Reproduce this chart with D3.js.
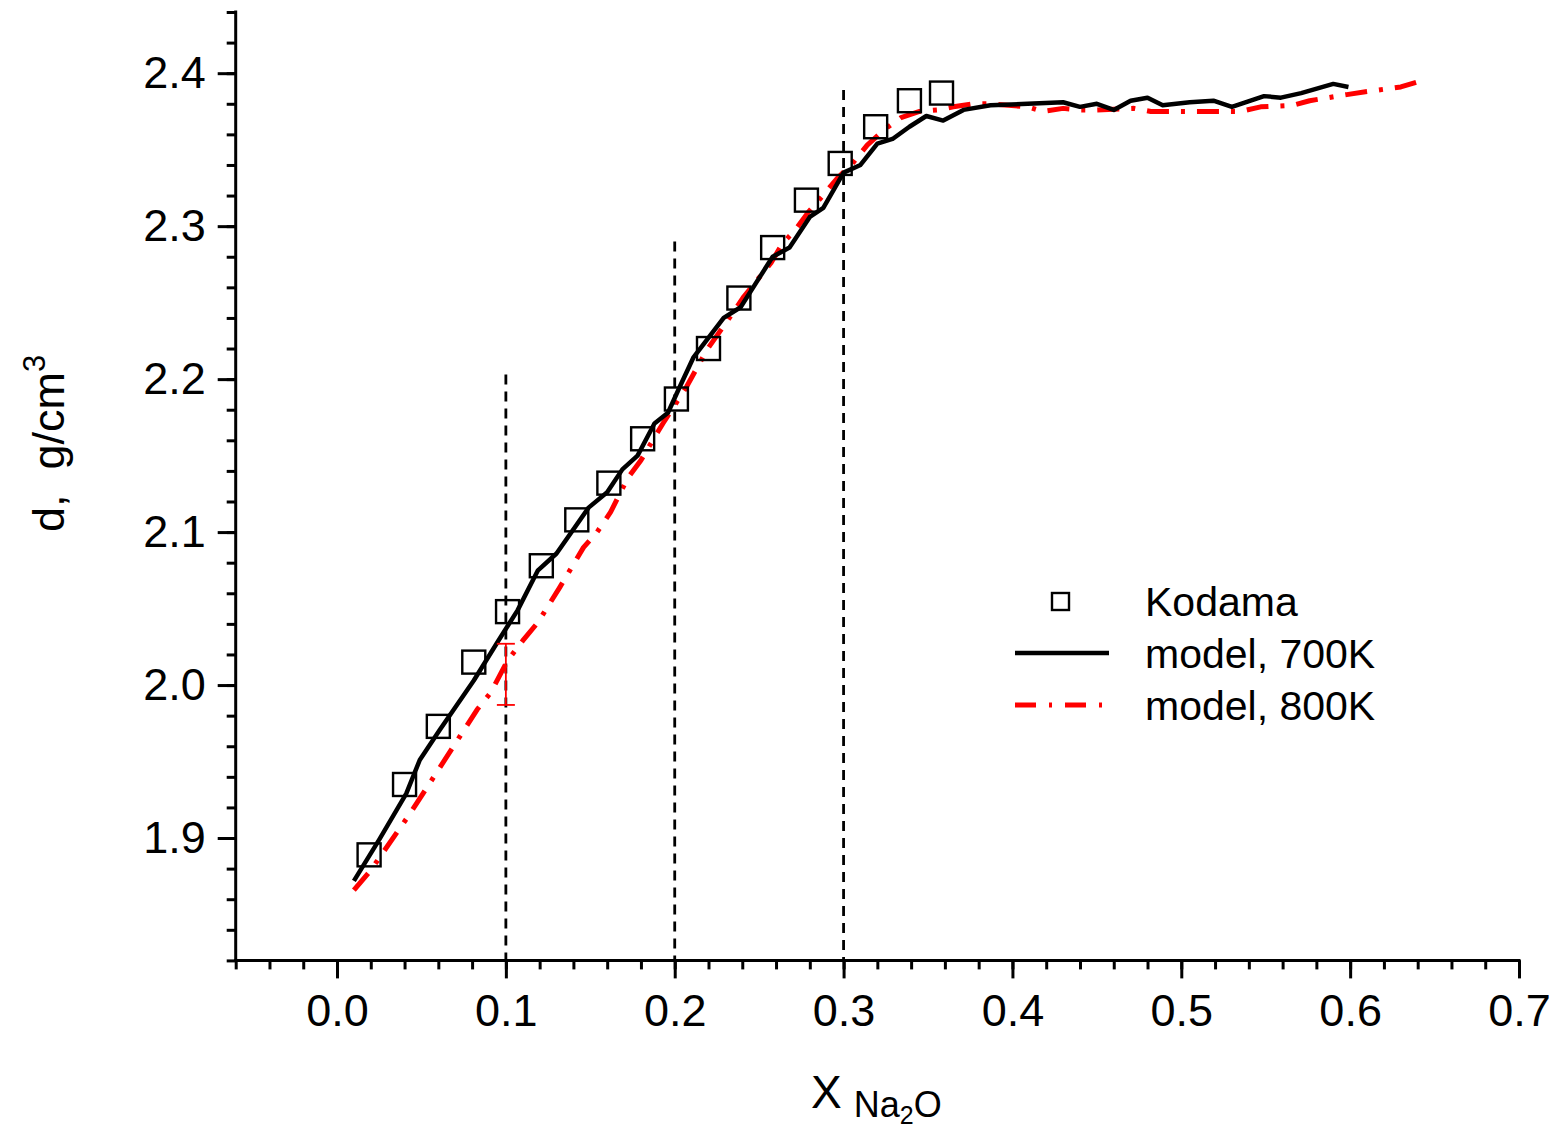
<!DOCTYPE html>
<html>
<head>
<meta charset="utf-8">
<script src="https://cdn.jsdelivr.net/npm/d3@7"></script>
<style>
  html, body { margin: 0; padding: 0; background: #fff; }
  text { font-family: "Liberation Sans", Arial, sans-serif; fill: #000; }
</style>
</head>
<body>
<svg id="chart" width="1559" height="1130"></svg>
<script>
// ---------------- data ----------------
const kodamaX = [0.019, 0.040, 0.060, 0.081, 0.101, 0.121, 0.142, 0.161, 0.181, 0.201,
                 0.220, 0.238, 0.258, 0.278, 0.298, 0.319, 0.339, 0.358];
const kodamaY = [1.889, 1.935, 1.973, 2.015, 2.048, 2.078, 2.108, 2.132, 2.161, 2.187,
                 2.220, 2.253, 2.286, 2.317, 2.341, 2.365, 2.382, 2.387];

const model700X = [0.010, 0.025, 0.041, 0.049, 0.061, 0.081, 0.095, 0.107, 0.119, 0.130,
                   0.149, 0.160, 0.169, 0.178, 0.188, 0.196, 0.203, 0.211, 0.229, 0.239,
                   0.258, 0.268, 0.280, 0.288, 0.300, 0.310, 0.320, 0.329, 0.339, 0.349,
                   0.359, 0.371, 0.387, 0.409, 0.430, 0.440, 0.450, 0.460, 0.470, 0.480,
                   0.489, 0.505, 0.519, 0.530, 0.549, 0.559, 0.571, 0.590, 0.599];
const model700Y = [1.872, 1.899, 1.929, 1.951, 1.971, 2.003, 2.028, 2.049, 2.075, 2.086,
                   2.116, 2.126, 2.141, 2.150, 2.171, 2.178, 2.195, 2.214, 2.240, 2.247,
                   2.280, 2.286, 2.306, 2.312, 2.335, 2.340, 2.354, 2.357, 2.365, 2.372,
                   2.369, 2.376, 2.379, 2.380, 2.381, 2.378, 2.380, 2.376, 2.382, 2.384,
                   2.379, 2.381, 2.382, 2.378, 2.385, 2.384, 2.387, 2.393, 2.391];

const model800X = [0.010, 0.020, 0.042, 0.055, 0.083, 0.091, 0.101, 0.110, 0.119, 0.132,
                   0.146, 0.154, 0.162, 0.172, 0.180, 0.187, 0.193, 0.207, 0.219, 0.233,
                   0.241, 0.249, 0.257, 0.264, 0.271, 0.279, 0.287, 0.296, 0.306, 0.314,
                   0.324, 0.334, 0.345, 0.356, 0.365, 0.377, 0.387, 0.409, 0.418, 0.430,
                   0.440, 0.450, 0.472, 0.482, 0.494, 0.505, 0.511, 0.535, 0.547, 0.566,
                   0.576, 0.598, 0.610, 0.630, 0.642];
const model800Y = [1.866, 1.879, 1.914, 1.936, 1.984, 1.995, 2.016, 2.029, 2.041, 2.064,
                   2.090, 2.100, 2.113, 2.135, 2.147, 2.160, 2.171, 2.195, 2.219, 2.241,
                   2.254, 2.265, 2.276, 2.289, 2.297, 2.309, 2.319, 2.331, 2.342, 2.353,
                   2.363, 2.371, 2.375, 2.376, 2.378, 2.380, 2.380, 2.378, 2.375, 2.377,
                   2.376, 2.376, 2.377, 2.375, 2.375, 2.375, 2.375, 2.375, 2.378, 2.379,
                   2.382, 2.386, 2.388, 2.391, 2.395];

const xTicks = [0.0, 0.1, 0.2, 0.3, 0.4, 0.5, 0.6, 0.7];
const xTickLabels = ["0.0", "0.1", "0.2", "0.3", "0.4", "0.5", "0.6", "0.7"];
const yTicks = [1.9, 2.0, 2.1, 2.2, 2.3, 2.4];
const yTickLabels = ["1.9", "2.0", "2.1", "2.2", "2.3", "2.4"];

const refLineX = [0.1, 0.2, 0.3];
const refLineTop = [2.203, 2.290, 2.389];

const errBarX = [0.1];
const errBarLow = [1.987];
const errBarHigh = [2.027];

const legendLabels = ["Kodama", "model, 700K", "model, 800K"];

// ---------------- layout ----------------
const svg = d3.select("#chart");
const x = d3.scaleLinear().domain([-0.06, 0.7]).range([235.7, 1519]);
const y = d3.scaleLinear().domain([1.82, 2.44]).range([960.4, 12]);
const y0 = y(1.82);

// reference dashed lines
svg.append("g").selectAll("line").data(refLineX).join("line")
  .attr("x1", d => x(d)).attr("x2", d => x(d))
  .attr("y1", (d, i) => y(refLineTop[i])).attr("y2", y0)
  .attr("stroke", "#000").attr("stroke-width", 2.8)
  .attr("stroke-dasharray", "10,7");

// axes
const xMinor = d3.range(-0.06, 0.7001, 0.02).map(v => +v.toFixed(2));
const yMinor = d3.range(1.82, 2.4401, 0.02).map(v => +v.toFixed(2));

const xAxisMinor = d3.axisBottom(x).tickValues(xMinor).tickSize(9).tickFormat("");
const xAxisMajor = d3.axisBottom(x).tickValues(xTicks).tickSize(18)
  .tickFormat((d, i) => xTickLabels[i]).tickPadding(16);
const yAxisMinor = d3.axisLeft(y).tickValues(yMinor).tickSize(9).tickFormat("");
const yAxisMajor = d3.axisLeft(y).tickValues(yTicks).tickSize(18)
  .tickFormat((d, i) => yTickLabels[i]).tickPadding(12);

function styleAxis(g) {
  g.select(".domain").remove();
  g.selectAll("line").attr("stroke", "#000").attr("stroke-width", 3);
  g.selectAll("text").attr("font-size", 45).attr("fill", "#000")
    .attr("font-family", "'Liberation Sans', Arial, sans-serif");
}
svg.append("g").attr("transform", `translate(0,${y0})`).call(xAxisMinor).call(styleAxis);
svg.append("g").attr("transform", `translate(0,${y0})`).call(xAxisMajor).call(styleAxis);
svg.append("g").attr("transform", `translate(${x(-0.06)},0)`).call(yAxisMinor).call(styleAxis);
svg.append("g").attr("transform", `translate(${x(-0.06)},0)`).call(yAxisMajor).call(styleAxis);

// axis lines
svg.append("line").attr("x1", x(-0.06) - 1.5).attr("x2", x(0.7) + 1.5)
  .attr("y1", y0).attr("y2", y0).attr("stroke", "#000").attr("stroke-width", 3);
svg.append("line").attr("x1", x(-0.06)).attr("x2", x(-0.06))
  .attr("y1", y(2.44) - 1.5).attr("y2", y0 + 1.5).attr("stroke", "#000").attr("stroke-width", 3);

// lines
const line = d3.line().x(d => x(d[0])).y(d => y(d[1]));
const d800 = model800X.map((v, i) => [v, model800Y[i]]);
const d700 = model700X.map((v, i) => [v, model700Y[i]]);

svg.append("path").datum(d800).attr("d", line)
  .attr("fill", "none").attr("stroke", "#ff0000").attr("stroke-width", 5)
  .attr("stroke-dasharray", "22,12,4,12").attr("stroke-linejoin", "round");

svg.append("path").datum(d700).attr("d", line)
  .attr("fill", "none").attr("stroke", "#000").attr("stroke-width", 4.5)
  .attr("stroke-linejoin", "round");

// error bar
const eb = svg.append("g").attr("stroke", "#ff0000").attr("stroke-width", 1.8);
errBarX.forEach((v, i) => {
  eb.append("line").attr("x1", x(v)).attr("x2", x(v)).attr("y1", y(errBarLow[i])).attr("y2", y(errBarHigh[i]));
  eb.append("line").attr("x1", x(v) - 9).attr("x2", x(v) + 9).attr("y1", y(errBarLow[i])).attr("y2", y(errBarLow[i]));
  eb.append("line").attr("x1", x(v) - 9).attr("x2", x(v) + 9).attr("y1", y(errBarHigh[i])).attr("y2", y(errBarHigh[i]));
});

// Kodama squares
const sq = 23;
svg.append("g").selectAll("rect").data(kodamaX).join("rect")
  .attr("x", d => x(d) - sq / 2)
  .attr("y", (d, i) => y(kodamaY[i]) - sq / 2)
  .attr("width", sq).attr("height", sq)
  .attr("fill", "none").attr("stroke", "#000").attr("stroke-width", 2.4);

// legend
const lg = svg.append("g");
lg.append("rect").attr("x", 1052).attr("y", 593).attr("width", 17).attr("height", 17)
  .attr("fill", "none").attr("stroke", "#000").attr("stroke-width", 2.4);
lg.append("line").attr("x1", 1015).attr("x2", 1109).attr("y1", 653).attr("y2", 653)
  .attr("stroke", "#000").attr("stroke-width", 4.5);
lg.append("line").attr("x1", 1015).attr("x2", 1109).attr("y1", 705).attr("y2", 705)
  .attr("stroke", "#ff0000").attr("stroke-width", 5).attr("stroke-dasharray", "21,13,3,13");
lg.selectAll("text").data(legendLabels).join("text")
  .attr("x", 1145).attr("y", (d, i) => 616 + i * 52)
  .attr("font-size", 41).text(d => d);

// axis titles
const xt = svg.append("text").attr("x", 811).attr("y", 1108).attr("font-size", 46);
xt.append("tspan").text("X");
xt.append("tspan").attr("dx", 12).attr("dy", 9).attr("font-size", 36).text("Na");
xt.append("tspan").attr("dy", 7).attr("font-size", 25).text("2");
xt.append("tspan").attr("dy", -7).attr("font-size", 36).text("O");

const yt = svg.append("text").attr("transform", "translate(64,532) rotate(-90)")
  .attr("font-size", 45).attr("xml:space", "preserve");
yt.append("tspan").text("d,\u00a0\u00a0g/cm");
yt.append("tspan").attr("dy", -19).attr("font-size", 31).text("3");
</script>
</body>
</html>
